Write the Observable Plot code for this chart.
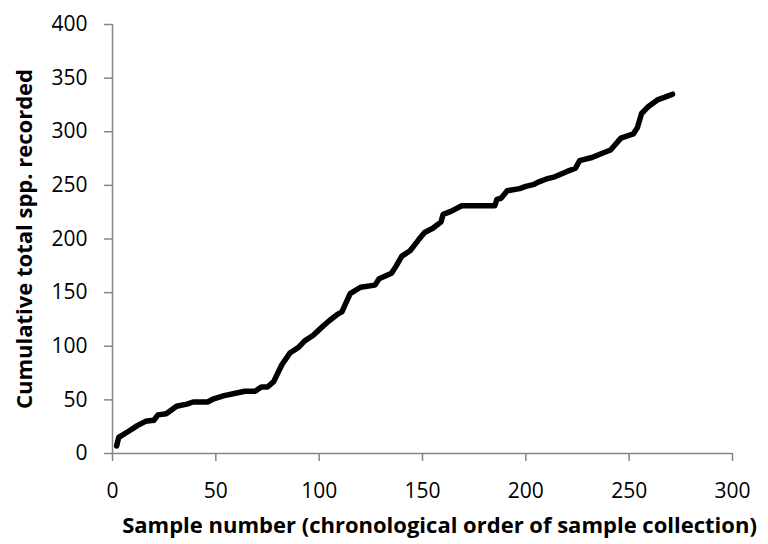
<!DOCTYPE html>
<html>
<head>
<meta charset="utf-8">
<script src="https://cdn.jsdelivr.net/npm/d3@7"></script>
<script src="https://cdn.jsdelivr.net/npm/@observablehq/plot@0.6"></script>
<style>
  html, body { margin: 0; padding: 0; background: #fff; }
  #chart svg { display: block; }
</style>
</head>
<body>
<div id="chart"></div>
<script>
const sampleNumber = [2,3,8,12,16,20,22,26,31,36,39,46,49,54,59,64,69,72,75,78,80,82,86,90,93,97,102,105,109,111,115,120,127,129,135,137,140,144,148,151,155,159,160,164,169,185,186,188,191,197,200,204,206,210,214,220,224,226,232,237,241,246,252,254,256,259,264,267,271];
const cumulativeSpp = [7,15,21,26,30,31,36,37,44,46,48,48,51,54,56,58,58,62,62,67,75,83,94,99,105,110,119,124,130,132,149,155,157,163,168,174,184,189,199,206,210,216,223,226,231,231,237,238,245,247,249,251,253,256,258,263,266,273,276,280,283,294,298,304,317,323,330,332,335];
const xTicks = [0,50,100,150,200,250,300];
const yTicks = [0,50,100,150,200,250,300,350,400];
const xLabel = "Sample number (chronological order of sample collection)";
const yLabel = "Cumulative total spp. recorded";

const data = sampleNumber.map((s, i) => ({sample: s, spp: cumulativeSpp[i]}));
const axisGray = "#868686";
const font = "'Open Sans', Lato, sans-serif";

const chart = Plot.plot({
  width: 768,
  height: 544,
  marginTop: 24,
  marginBottom: 91,
  marginLeft: 112,
  marginRight: 36,
  style: {fontFamily: font, fontSize: "21px", color: "#000", background: "#fff"},
  x: {domain: [0, 300]},
  y: {domain: [0, 400]},
  marks: [
    Plot.ruleX([0], {stroke: axisGray, strokeWidth: 1.5}),
    Plot.ruleY([0], {stroke: axisGray, strokeWidth: 1.5}),
    Plot.axisX({ticks: xTicks, tickSize: 8, tickPadding: 22, stroke: axisGray, strokeWidth: 1.5, fill: "#000", fontSize: 21, label: null}),
    Plot.axisY({ticks: yTicks, tickSize: 8, tickPadding: 17, stroke: axisGray, strokeWidth: 1.5, fill: "#000", fontSize: 21, label: null}),
    Plot.text([xLabel], {frameAnchor: "bottom", dx: 17, dy: 79, fontWeight: "bold", fontSize: 22, fill: "#000", lineWidth: 100, lineAnchor: "bottom"}),
    Plot.text([yLabel], {frameAnchor: "left", dx: -88, rotate: -90, textAnchor: "middle", fontWeight: "bold", fontSize: 22, fill: "#000", lineWidth: 100}),
    Plot.line(data, {x: "sample", y: "spp", stroke: "#000", strokeWidth: 5.5, strokeLinejoin: "round", strokeLinecap: "round"})
  ]
});
document.getElementById("chart").appendChild(chart);
</script>
</body>
</html>
